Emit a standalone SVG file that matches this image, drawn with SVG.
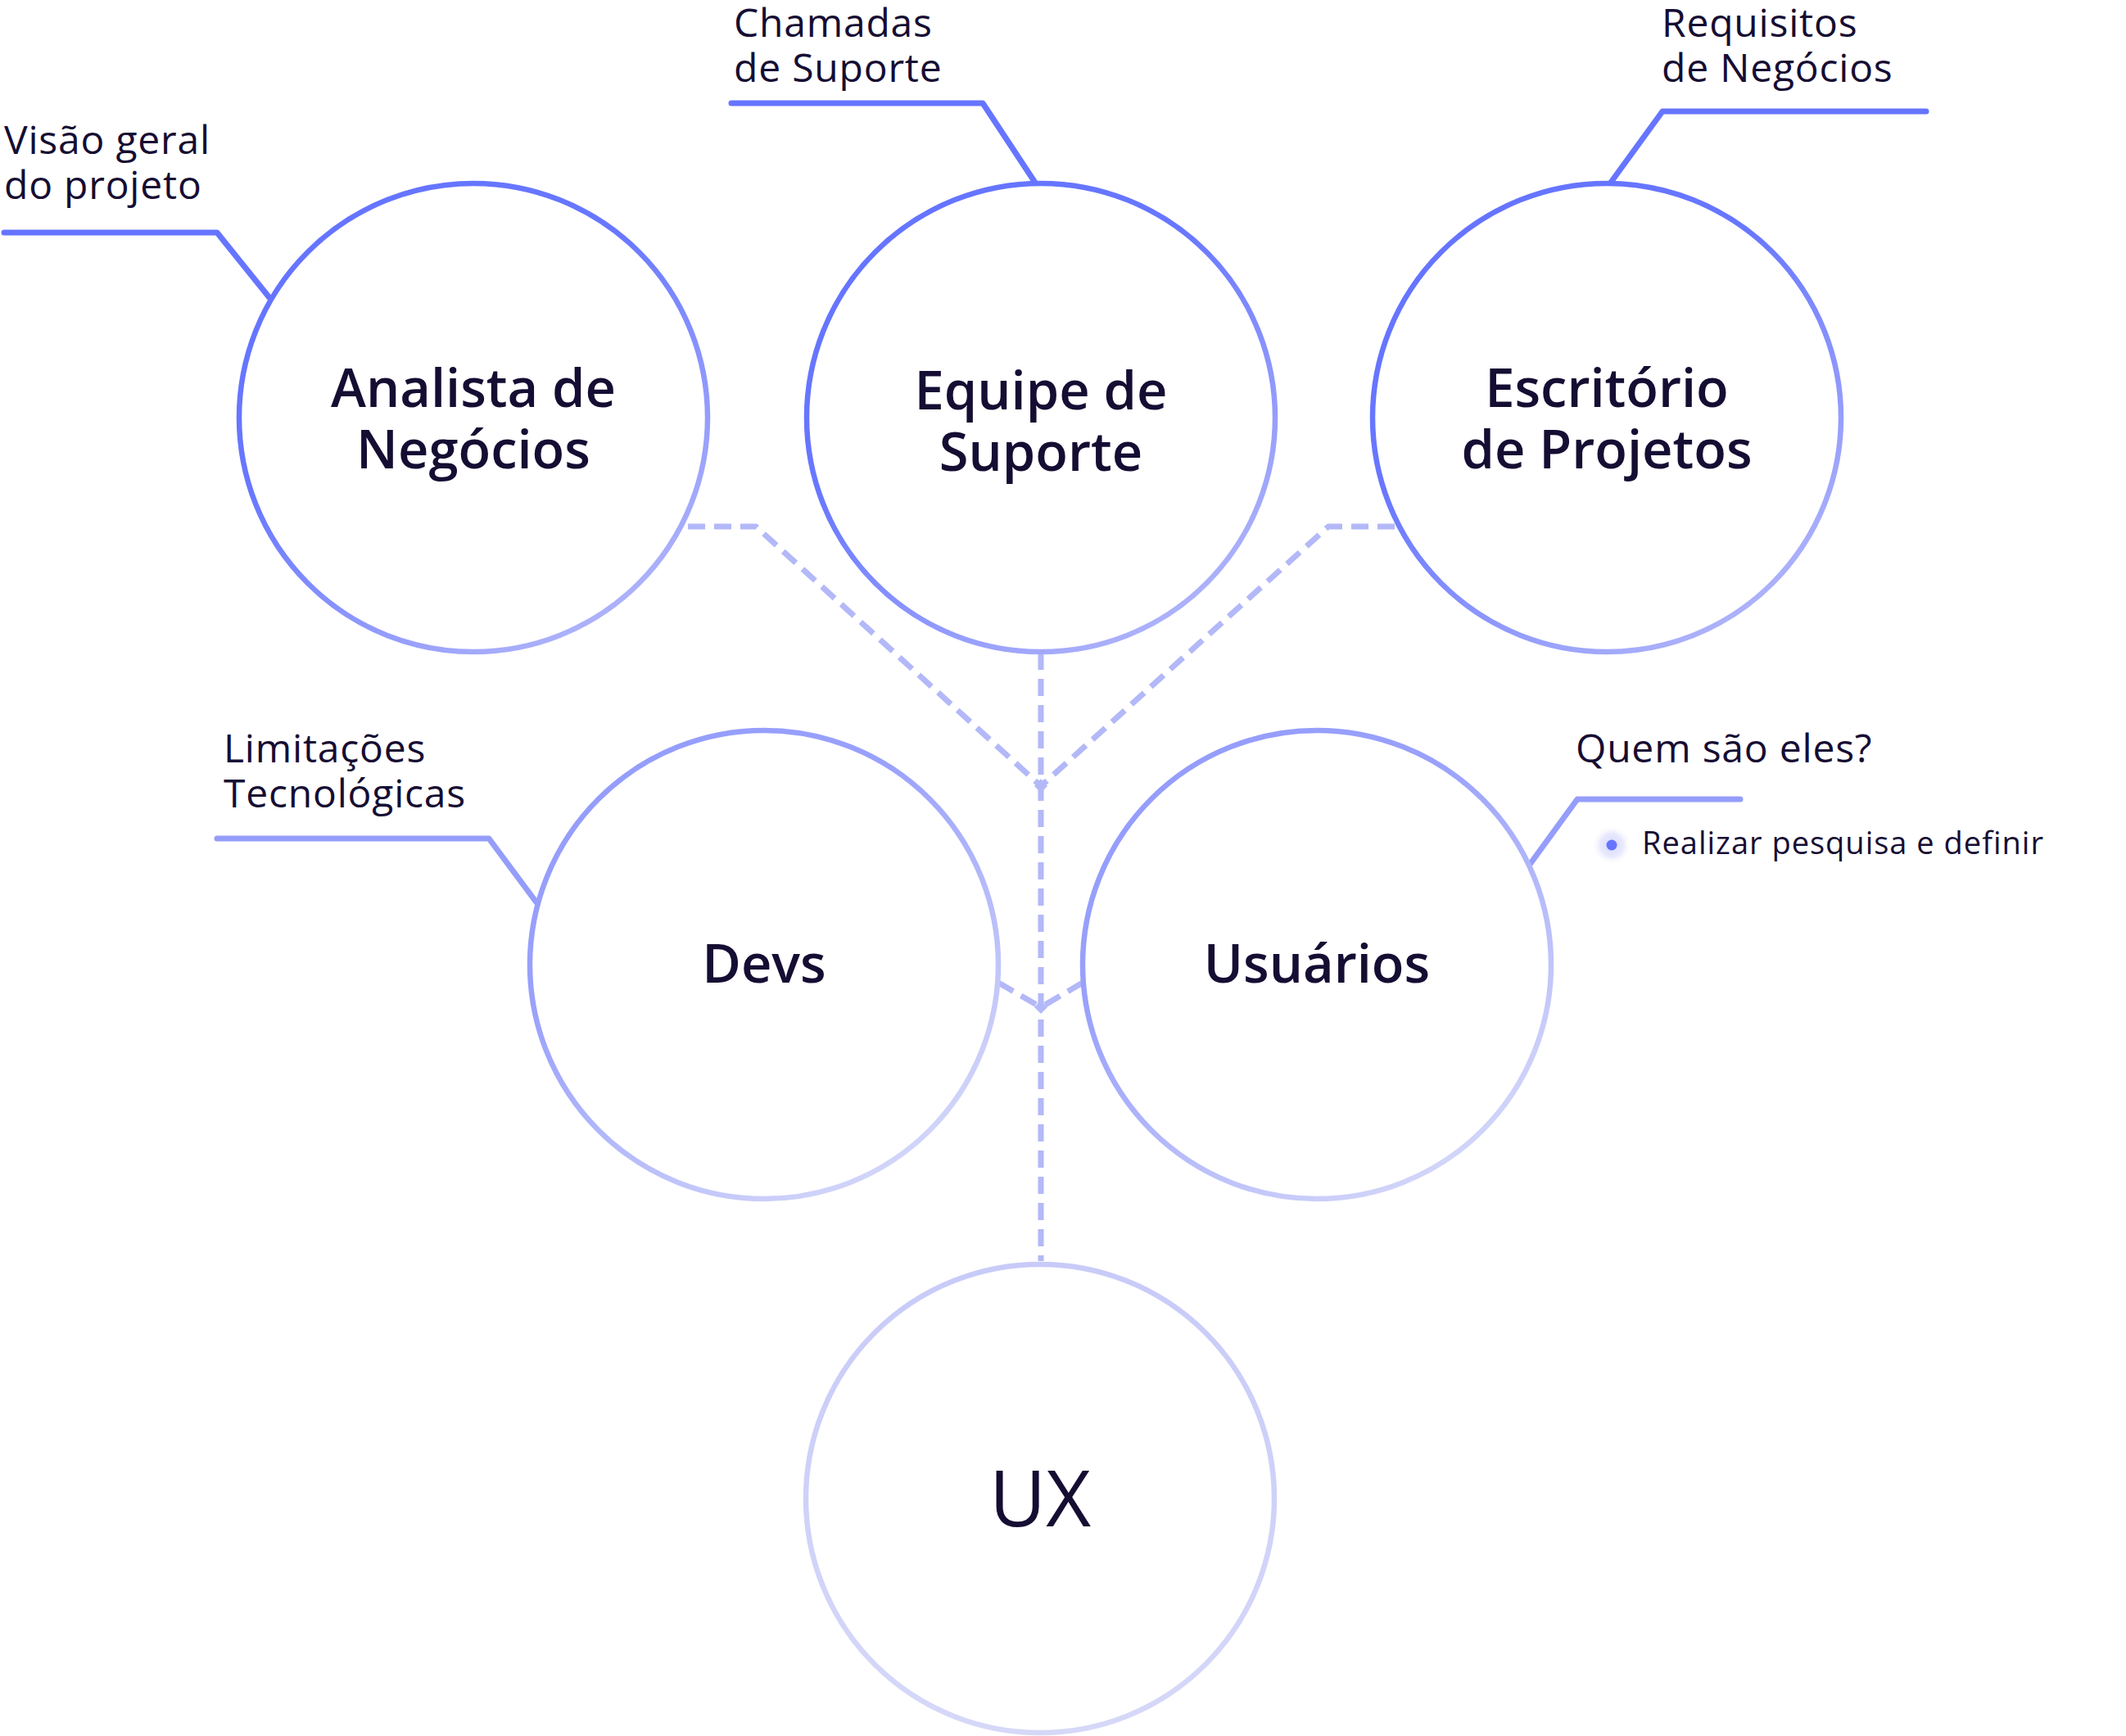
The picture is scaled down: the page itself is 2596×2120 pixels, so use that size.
<svg xmlns="http://www.w3.org/2000/svg" width="2596" height="2120" viewBox="0 0 2596 2120">
  <style>
    .node { fill: #ffffff; stroke-width: 6.5; }
    .nlabel { font-family: "Open Sans", "Liberation Sans", sans-serif; font-weight: 600; font-size: 65px; fill: #160d33; text-anchor: middle; }
    .ux { font-family: "Open Sans", "Liberation Sans", sans-serif; font-weight: 500; font-size: 95px; fill: #160d33; text-anchor: middle; }
    .label { font-family: "Open Sans", "Liberation Sans", sans-serif; font-weight: 400; font-size: 48px; fill: #160d33; letter-spacing: 0.8px; }
    .small { font-family: "Open Sans", "Liberation Sans", sans-serif; font-weight: 400; font-size: 38px; fill: #160d33; letter-spacing: 1px; }
    .leader { fill: none; stroke-width: 7; stroke-linecap: round; stroke-linejoin: round; }
    .lead1 { stroke: #6675ff; }
    .lead2 { stroke: #959dfb; }
    .dash { fill: none; stroke: #b3b8f8; stroke-width: 7; stroke-dasharray: 21 11; stroke-linejoin: round; }
  </style>
  <defs>
    <linearGradient id="gTop" x1="0" y1="0" x2="0.7" y2="1">
      <stop offset="0" stop-color="#6473ff"/>
      <stop offset="0.45" stop-color="#6877ff"/>
      <stop offset="1" stop-color="#aeb3fa"/>
    </linearGradient>
    <linearGradient id="gMid" x1="0" y1="0" x2="0.7" y2="1">
      <stop offset="0" stop-color="#939bfc"/>
      <stop offset="0.4" stop-color="#99a1fb"/>
      <stop offset="1" stop-color="#d3d6f9"/>
    </linearGradient>
    <linearGradient id="gUx" x1="0" y1="0" x2="0" y2="1">
      <stop offset="0" stop-color="#c8cbf8"/>
      <stop offset="1" stop-color="#d6d8f8"/>
    </linearGradient>
    <radialGradient id="halo">
      <stop offset="0" stop-color="#d6d9fd"/>
      <stop offset="0.6" stop-color="#e9eafe"/>
      <stop offset="1" stop-color="#ffffff" stop-opacity="0"/>
    </radialGradient>
  </defs>
  <rect width="2596" height="2120" fill="#ffffff"/>

  <g id="connectors">
    <path class="dash" d="M840 643 L923 643 L1271 960"/>
    <path class="dash" d="M1703 643 L1622 643 L1271 960"/>
    <path class="dash" d="M1271 797 L1271 1540"/>
    <path class="dash" d="M1219 1200 L1271 1230"/>
    <path class="dash" d="M1322 1200 L1271 1230"/>
    <polygon points="1271,951 1279,960 1271,968 1263,960" fill="#b3b8f8"/>
    <polygon points="1271,1221 1279,1230 1271,1238 1263,1230" fill="#b3b8f8"/>
    <path class="leader lead1" d="M5 284 L265 284 L331 366"/>
    <path class="leader lead1" d="M893 126 L1200 126 L1264 223"/>
    <path class="leader lead1" d="M2352 136 L2030 136 L1966 224"/>
    <path class="leader lead2" d="M265 1024 L597 1024 L655 1102"/>
    <path class="leader lead2" d="M2125 976 L1926 976 L1867 1057"/>
  </g>

  <g id="node-analista">
    <circle class="node" cx="578" cy="510" r="286" stroke="url(#gTop)"/>
    <text class="nlabel" x="578" y="497">Analista de</text>
    <text class="nlabel" x="578" y="572">Negócios</text>
  </g>
  <g id="node-equipe">
    <circle class="node" cx="1271" cy="510" r="286" stroke="url(#gTop)"/>
    <text class="nlabel" x="1271" y="500">Equipe de</text>
    <text class="nlabel" x="1271" y="575">Suporte</text>
  </g>
  <g id="node-escritorio">
    <circle class="node" cx="1962" cy="510" r="286" stroke="url(#gTop)"/>
    <text class="nlabel" x="1962" y="497">Escritório</text>
    <text class="nlabel" x="1962" y="572">de Projetos</text>
  </g>
  <g id="node-devs">
    <circle class="node" cx="933" cy="1178" r="286" stroke="url(#gMid)"/>
    <text class="nlabel" x="933" y="1200">Devs</text>
  </g>
  <g id="node-usuarios">
    <circle class="node" cx="1608" cy="1178" r="286" stroke="url(#gMid)"/>
    <text class="nlabel" x="1608" y="1200">Usuários</text>
  </g>
  <g id="node-ux">
    <circle class="node" cx="1270" cy="1830" r="286" stroke="url(#gUx)"/>
    <text class="ux" x="1270" y="1864">UX</text>
  </g>

  <g id="label-visao">
    <text class="label" x="5" y="188">Visão geral</text>
    <text class="label" x="5" y="243">do projeto</text>
  </g>
  <g id="label-chamadas">
    <text class="label" x="896" y="45">Chamadas</text>
    <text class="label" x="896" y="100">de Suporte</text>
  </g>
  <g id="label-requisitos">
    <text class="label" x="2029" y="45">Requisitos</text>
    <text class="label" x="2029" y="100">de Negócios</text>
  </g>
  <g id="label-limitacoes">
    <text class="label" x="273" y="931">Limitações</text>
    <text class="label" x="273" y="986">Tecnológicas</text>
  </g>
  <g id="label-quem">
    <text class="label" x="1924" y="931">Quem são eles?</text>
    <circle cx="1968" cy="1032" r="24" fill="url(#halo)"/>
    <circle cx="1968" cy="1032" r="6.5" fill="#6675ff"/>
    <text class="small" x="2005" y="1043">Realizar pesquisa e definir</text>
  </g>
</svg>
